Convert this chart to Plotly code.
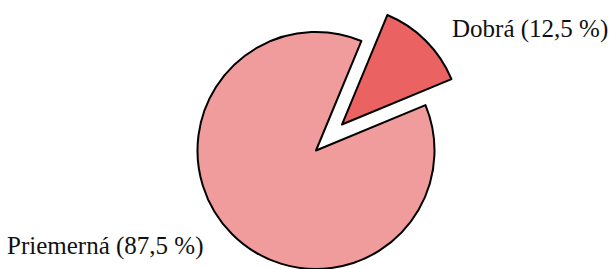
import math
import plotly.graph_objects as go

# Data
labels = ["Dobrá", "Priemerná"]
values = [12.5, 87.5]
label_texts = ["Dobrá (12,5 %)", "Priemerná (87,5 %)"]
colors = ["#EB6262", "#F19C9C"]
pull_frac = 0.31

W, H = 609, 269
TRANSP = "rgba(0,0,0,0)"

# main pie geometry (pixels)
cx, cy, r = 316.0, 150.5, 118.5
start_angle = 22.5  # degrees clockwise from 12 o'clock

def domain_for(cx, cy, r):
    return dict(x=[(cx - r) / W, (cx + r) / W],
                y=[(H - (cy + r)) / H, (H - (cy - r)) / H])

# offset of the pulled slice along its mid-angle
mid = math.radians(start_angle + 360 * values[0] / sum(values) / 2)
dx = pull_frac * r * math.sin(mid)
dy = -pull_frac * r * math.cos(mid)

common = dict(labels=labels, values=values, sort=False, direction="clockwise",
              rotation=start_angle, textinfo="none", hoverinfo="label+percent",
              showlegend=False)

fig = go.Figure()
# remaining (large) slice
fig.add_trace(go.Pie(
    **common,
    domain=domain_for(cx, cy, r),
    marker=dict(colors=[TRANSP, colors[1]],
                line=dict(color=["rgba(0,0,0,0)", "black"], width=[0, 2])),
))
# pulled-out slice
fig.add_trace(go.Pie(
    **common,
    domain=domain_for(cx + dx, cy + dy, r),
    marker=dict(colors=[colors[0], TRANSP],
                line=dict(color=["black", "rgba(0,0,0,0)"], width=[2, 0])),
))

font = dict(family="Liberation Serif", size=25, color="#111111")
fig.add_annotation(text=label_texts[0], xref="paper", yref="paper",
                   x=450 / W, y=1 - 29 / H, xanchor="left", yanchor="middle",
                   showarrow=False, font=font)
fig.add_annotation(text=label_texts[1], xref="paper", yref="paper",
                   x=5 / W, y=1 - 246 / H, xanchor="left", yanchor="middle",
                   showarrow=False, font=font)

fig.update_layout(width=W, height=H, margin=dict(l=0, r=0, t=0, b=0),
                  paper_bgcolor="white", plot_bgcolor="white")
fig.write_html("out.html", config={"displayModeBar": False},
               post_script="document.body.style.margin='0';document.body.style.overflow='hidden';")
